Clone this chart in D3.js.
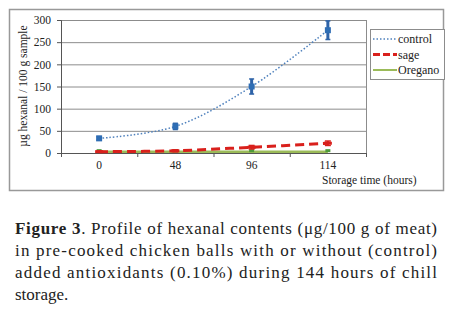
<!DOCTYPE html>
<html>
<head>
<meta charset="utf-8">
<script src="https://cdn.jsdelivr.net/npm/d3@7"></script>
<style>
  body { margin: 0; background: #fff; }
  svg, svg text { font-family: "Times New Roman", "Liberation Serif", Times, serif; }
</style>
</head>
<body>
<div class="canvas_area"></div>
<script>
// DATA
const hours = ["0", "48", "96", "114"];
const yTicks = [0, 50, 100, 150, 200, 250, 300];
const control = [33, 60, 150, 277];
const controlErr = [4, 7, 17, 21];
const sage = [3, 5, 13, 22];
const sageErr = [1, 2, 4, 5];
const oregano = [3, 3, 3, 3];
const seriesNames = ["control", "sage", "Oregano"];
const captionLines = [
  "Profile of hexanal contents (\u03bcg/100 g of meat)",
  "in pre-cooked chicken balls with or without (control)",
  "added antioxidants (0.10%) during 144 hours of chill",
  "storage."
];

const FONT = '"Times New Roman", "Liberation Serif", serif';
const svgwidth = 453, svgheight = 313;
const margin = {top: 20, left: 61};
const graphwidth = 305, graphheight = 133;

const svg = d3.select(".canvas_area").append("svg")
  .attr("width", svgwidth).attr("height", svgheight);

// outer frame
svg.append("rect")
  .attr("x", 9.5).attr("y", 9.5).attr("width", 434).attr("height", 181)
  .style("fill", "none").style("stroke", "#999").style("stroke-width", 1.5);

const graph = svg.append("g").attr("transform", `translate(${margin.left}, ${margin.top})`);

// SCALES
const X = d3.scaleBand().domain(hours).range([0, graphwidth]);
const Y = d3.scaleLinear().domain([0, 300]).range([graphheight, 0]);
const cx = d => X(d) + X.bandwidth() / 2;

// GRID
graph.selectAll(".grid").data(yTicks.slice(1)).enter().append("line")
  .attr("x1", 0).attr("x2", graphwidth)
  .attr("y1", d => Y(d) + 0.5).attr("y2", d => Y(d) + 0.5)
  .style("stroke", "#8c8c8c").style("stroke-width", 1);
graph.append("line")
  .attr("x1", graphwidth + 0.5).attr("x2", graphwidth + 0.5)
  .attr("y1", 0).attr("y2", graphheight)
  .style("stroke", "#8c8c8c");

// AXES
const yAxis = graph.append("g")
  .call(d3.axisLeft(Y).tickValues(yTicks).tickSize(4).tickPadding(6));
const xAxis = graph.append("g").attr("transform", `translate(0, ${graphheight})`)
  .call(d3.axisBottom(X).tickSize(0).tickPadding(8));
// category separators on x axis
xAxis.selectAll(".sep").data(d3.range(hours.length + 1)).enter().append("line")
  .attr("x1", i => i * X.step() + 0.5).attr("x2", i => i * X.step() + 0.5)
  .attr("y1", 0).attr("y2", 4).style("stroke", "#555");
[yAxis, xAxis].forEach(a => {
  a.attr("font-family", FONT);
  a.select(".domain").style("stroke", "#555");
  a.selectAll(".tick line").style("stroke", "#555");
  a.selectAll("text").style("font-family", FONT).style("font-size", "11.5px").style("fill", "#222");
});

// LINES
const line = d3.line().x((d, i) => cx(hours[i])).y(d => Y(d)).curve(d3.curveCatmullRom.alpha(0.5));

function errBars(vals, errs, color, w, cap) {
  graph.append("g").selectAll("g").data(vals).enter().each(function (d, i) {
    const g = d3.select(this).append("g");
    const x = cx(hours[i]);
    g.append("line").attr("x1", x).attr("x2", x)
      .attr("y1", Y(d + errs[i])).attr("y2", Y(d - errs[i]))
      .style("stroke", color).style("stroke-width", w);
    [d + errs[i], d - errs[i]].forEach(v => {
      g.append("line").attr("x1", x - cap).attr("x2", x + cap)
        .attr("y1", Y(v)).attr("y2", Y(v))
        .style("stroke", color).style("stroke-width", 1.5);
    });
  });
}

// oregano
graph.append("path").datum(oregano).attr("d", line)
  .style("fill", "none").style("stroke", "#9bbb59").style("stroke-width", 2.5);
graph.selectAll(".om").data(oregano).enter().append("rect")
  .attr("x", (d, i) => cx(hours[i]) - 2.5).attr("y", d => Y(d) - 2.5)
  .attr("width", 5).attr("height", 3).style("fill", "#4e9a3a");

// sage
graph.append("path").datum(sage).attr("d", line)
  .style("fill", "none").style("stroke", "#d9201c").style("stroke-width", 3)
  .style("stroke-dasharray", "9,5");
errBars(sage, sageErr, "#d9201c", 2, 3);
graph.selectAll(".sm").data(sage).enter().append("rect")
  .attr("x", (d, i) => cx(hours[i]) - 4).attr("y", d => Y(d) - 1.5)
  .attr("width", 8).attr("height", 3).style("fill", "#d9201c");

// control
graph.append("path").datum(control).attr("d", line)
  .style("fill", "none").style("stroke", "#4f81bd").style("stroke-width", 1.5)
  .style("stroke-dasharray", "1.5,2");
errBars(control, controlErr, "#2e63a8", 3, 2.5);
graph.selectAll(".cm").data(control).enter().append("rect")
  .attr("x", (d, i) => cx(hours[i]) - 3).attr("y", d => Y(d) - 3)
  .attr("width", 6).attr("height", 6).style("fill", "#2e6db4");

// X TITLE
svg.append("text").attr("x", 322).attr("y", 184)
  .style("font-size", "11.5px").style("fill", "#222").text("Storage time (hours)");
// Y TITLE
svg.append("text").attr("transform", "translate(27, 86) rotate(-90)")
  .attr("text-anchor", "middle").style("font-size", "11.5px").style("fill", "#222")
  .text("\u00b5g hexanal / 100 g sample");

// LEGEND
const legend = svg.append("g").attr("transform", "translate(370, 29)");
legend.append("rect").attr("x", 0.5).attr("y", 0.5).attr("width", 74).attr("height", 50)
  .style("fill", "#fff").style("stroke", "#8c8c8c");
const legStyles = [
  {color: "#4f81bd", w: 1.5, dash: "1.5,2"},
  {color: "#d9201c", w: 3, dash: "7,3"},
  {color: "#9bbb59", w: 2, dash: null}
];
seriesNames.forEach((name, i) => {
  const y = 10 + i * 15.5;
  legend.append("line").attr("x1", 3).attr("x2", 27).attr("y1", y).attr("y2", y)
    .style("stroke", legStyles[i].color).style("stroke-width", legStyles[i].w)
    .style("stroke-dasharray", legStyles[i].dash);
  legend.append("text").attr("x", 28).attr("y", y + 4)
    .style("font-size", "12px").style("fill", "#222").text(name);
});

// CAPTION
const cap = svg.append("g").style("font-size", "17px").style("fill", "#222");
captionLines.forEach((t, i) => {
  const txt = cap.append("text").attr("x", 15).attr("y", 234 + i * 22);
  if (i === 0) {
    txt.append("tspan").style("font-weight", "bold").text("Figure 3");
    txt.append("tspan").text(". " + t);
  } else {
    txt.text(t);
  }
  if (i < 3) txt.attr("textLength", 422).attr("lengthAdjust", "spacing");
});
</script>
</body>
</html>
